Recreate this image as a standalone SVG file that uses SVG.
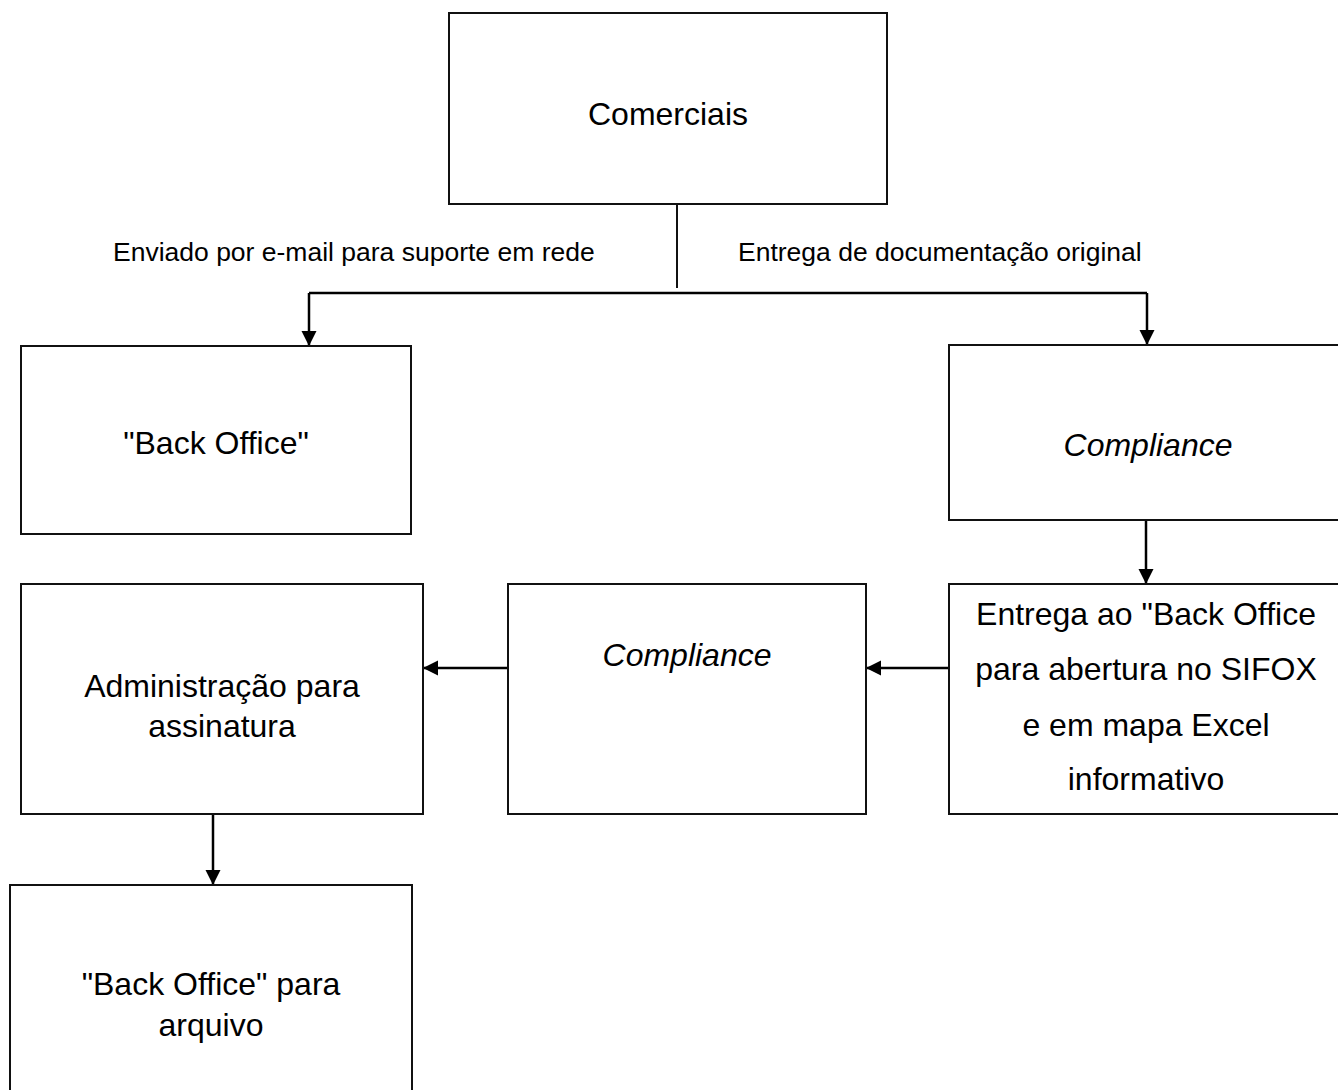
<svg xmlns="http://www.w3.org/2000/svg" width="1338" height="1090" viewBox="0 0 1338 1090">
  <style>
    .box { fill: #ffffff; stroke: #111111; stroke-width: 2; }
    .txt { font-family: "Liberation Sans", Arial, sans-serif; font-size: 32px; fill: #000000; text-anchor: middle; }
    .it { font-style: italic; }
    .lbl { font-family: "Liberation Sans", Arial, sans-serif; font-size: 26.5px; fill: #000000; }
    .wire { fill: none; stroke: #000000; stroke-width: 2.5; }
    .stub { fill: none; stroke: #111111; stroke-width: 2; }
  </style>
  <defs>
    <marker id="arrow" markerUnits="userSpaceOnUse" markerWidth="16" markerHeight="16" refX="15" refY="7.5" orient="auto">
      <path d="M0,0 L15,7.5 L0,15 Z" fill="#000000"/>
    </marker>
  </defs>

  <rect width="1338" height="1090" fill="#ffffff"/>

  <!-- connectors -->
  <g id="connectors">
    <path class="stub" d="M677,205 V288"/>
    <path class="wire" d="M309,293 H1147"/>
    <path class="wire" d="M309,293 V346" marker-end="url(#arrow)"/>
    <path class="wire" d="M1147,293 V345" marker-end="url(#arrow)"/>
    <path class="wire" d="M1146,520 V584" marker-end="url(#arrow)"/>
    <path class="wire" d="M949,668 H866" marker-end="url(#arrow)"/>
    <path class="wire" d="M508,668 H423" marker-end="url(#arrow)"/>
    <path class="wire" d="M213,814 V885" marker-end="url(#arrow)"/>
    <text class="lbl" x="113" y="261">Enviado por e-mail para suporte em rede</text>
    <text class="lbl" x="738" y="261">Entrega de documentação original</text>
  </g>

  <!-- nodes -->
  <g id="comerciais">
    <rect class="box" x="449" y="13" width="438" height="191"/>
    <text class="txt" x="668" y="125">Comerciais</text>
  </g>

  <g id="back-office">
    <rect class="box" x="21" y="346" width="390" height="188"/>
    <text class="txt" x="216" y="454">"Back Office"</text>
  </g>

  <g id="compliance-top">
    <rect class="box" x="949" y="345" width="394" height="175"/>
    <text class="txt it" x="1148" y="456">Compliance</text>
  </g>

  <g id="entrega-back-office">
    <rect class="box" x="949" y="584" width="394" height="230"/>
    <text class="txt" x="1146" y="625">Entrega ao "Back Office</text>
    <text class="txt" x="1146" y="680">para abertura no SIFOX</text>
    <text class="txt" x="1146" y="736">e em mapa Excel</text>
    <text class="txt" x="1146" y="790">informativo</text>
  </g>

  <g id="compliance-mid">
    <rect class="box" x="508" y="584" width="358" height="230"/>
    <text class="txt it" x="687" y="666">Compliance</text>
  </g>

  <g id="administracao">
    <rect class="box" x="21" y="584" width="402" height="230"/>
    <text class="txt" x="222" y="697">Administração para</text>
    <text class="txt" x="222" y="737">assinatura</text>
  </g>

  <g id="back-office-arquivo">
    <rect class="box" x="10" y="885" width="402" height="220"/>
    <text class="txt" x="211" y="995">"Back Office" para</text>
    <text class="txt" x="211" y="1036">arquivo</text>
  </g>
</svg>
